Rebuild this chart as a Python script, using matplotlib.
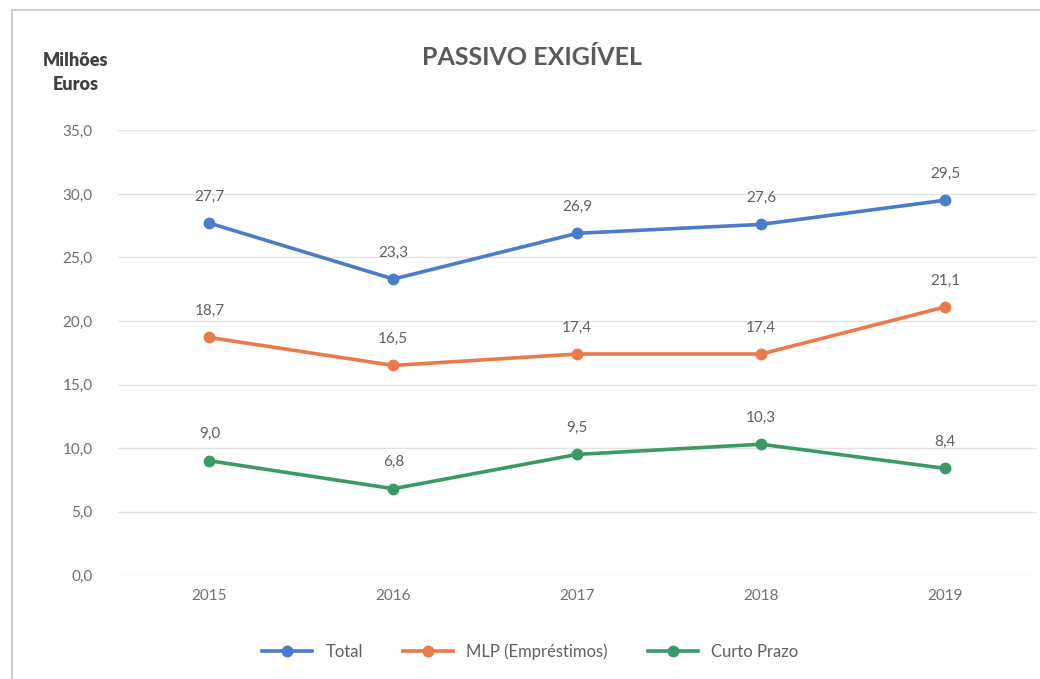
import matplotlib.pyplot as plt
from matplotlib.patches import Rectangle

plt.rcParams['font.family'] = ['Lato', 'DejaVu Sans']

anos = ['2015', '2016', '2017', '2018', '2019']
total = [27.7, 23.3, 26.9, 27.6, 29.5]
mlp = [18.7, 16.5, 17.4, 17.4, 21.1]
curto = [9.0, 6.8, 9.5, 10.3, 8.4]

series = [
    ('Total', total, '#4a7cc9'),
    ('MLP (Empréstimos)', mlp, '#ea7a4a'),
    ('Curto Prazo', curto, '#3a9a66'),
]

fig = plt.figure(figsize=(10.4, 6.79), dpi=100)
ax = fig.add_axes([0.113, 0.153, 0.884, 0.655])

x = list(range(len(anos)))
for nome, vals, cor in series:
    ax.plot(x, vals, color=cor, lw=2.6, marker='o', ms=7.5, label=nome, zorder=3)
    for xi, v in zip(x, vals):
        ax.annotate(f'{v:.1f}'.replace('.', ','), (xi, v), xytext=(0, 14),
                    textcoords='offset points', ha='center', va='bottom',
                    fontsize=11, color='#606060')

ax.set_xlim(-0.5, 4.5)
ax.set_ylim(0, 35)
ax.set_yticks(range(0, 36, 5))
ax.set_yticklabels([f'{v:.1f}'.replace('.', ',') for v in range(0, 36, 5)])
ax.set_xticks(x)
ax.set_xticklabels(anos)
ax.tick_params(length=0, labelsize=11, labelcolor='#707070')
ax.tick_params(axis='y', pad=18)
ax.tick_params(axis='x', pad=10)
ax.yaxis.grid(True, color='#e2e2e2', lw=1)
ax.set_axisbelow(True)
for s in ax.spines.values():
    s.set_visible(False)

fig.text(0.512, 0.915, 'PASSIVO EXIGÍVEL', ha='center', va='center',
         fontsize=18, fontweight='bold', color='#5a5a5a')
fig.text(0.073, 0.893, 'Milhões\nEuros', ha='center', va='center',
         fontsize=13, fontweight='heavy', color='#404040', linespacing=1.5)

fig.legend(loc='center', bbox_to_anchor=(0.51, 0.04), ncol=3, frameon=False,
           fontsize=12, labelcolor='#606060', handlelength=3, columnspacing=2.4)

fig.patches.append(Rectangle((0.012, -0.01), 1.0, 0.995, transform=fig.transFigure,
                             fill=False, edgecolor='#d0d0d0', lw=1.5))

fig.savefig('out.png', dpi=100)
